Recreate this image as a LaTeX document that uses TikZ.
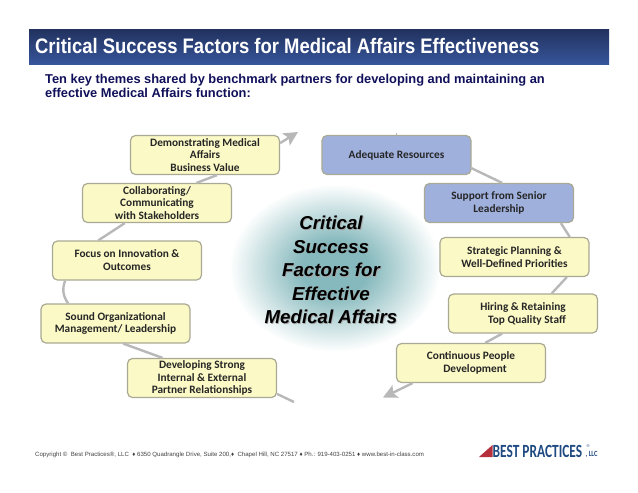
\documentclass[tikz,border=0pt]{standalone}
\usepackage{fontspec}
\setmainfont{Liberation Sans}
\newfontfamily\boxfont{Carlito}
\usetikzlibrary{arrows.meta}
\definecolor{boxyellow}{HTML}{FBF9C6}
\definecolor{boxblue}{HTML}{9FB0DC}
\definecolor{boxline}{HTML}{A9A994}
\definecolor{connline}{HTML}{B8B8B8}
\definecolor{bartop}{HTML}{22325F}
\definecolor{barbottom}{HTML}{37569C}
\definecolor{subnavy}{HTML}{10105A}
\definecolor{glowteal}{HTML}{86B9BD}
\definecolor{logoblue}{HTML}{1F4A82}
\definecolor{logored}{HTML}{B5303A}
\pgfdeclareradialshading{glow}{\pgfpointorigin}{color(0bp)=(glowteal);color(8bp)=(glowteal);color(25bp)=(white);color(100bp)=(white)}
\tikzset{
	theme/.style={draw=boxline,line width=1.2pt,rounded corners=5pt,minimum width=149pt,minimum height=39pt,inner sep=0pt,align=center,text=black!85,font=\boxfont\bfseries\fontsize{11.3}{12.9}\selectfont},
	conn/.style={draw=connline,line width=2.4pt},
	connarrow/.style={conn,-{Stealth[length=14pt,width=14pt,inset=3pt]}}
}
\begin{document}
\begin{tikzpicture}[x=1pt,y=1pt]
	\useasboundingbox (0,0) rectangle (638,-493);
	\shade [shading=glow] (335,-268) ellipse (106 and 84);
	\node [minimum width=580pt,minimum height=35.5pt,inner sep=0pt,top color=bartop,bottom color=barbottom] (bar) at (319,-47) {};
	\node [anchor=west,inner sep=0pt,text=white,xscale=.878,font=\bfseries\fontsize{21}{24}\selectfont] (title) at (35,-46) {Critical Success Factors for Medical Affairs Effectiveness};
	\node [anchor=north west,inner sep=0pt,align=left,text=subnavy,font=\bfseries\fontsize{12.85}{14}\selectfont] (sub) at (45,-73.5) {Ten key themes shared by benchmark partners for developing and maintaining an\\effective Medical Affairs function:};
	\begin{scope}[every node/.style={theme,fill=boxyellow}]
		\node (demo) at (205,-155) {Demonstrating Medical\\Affairs\\Business Value};
		\node (collab) at (157,-203) {Collaborating/\\Communicating\\with Stakeholders};
		\node (focus) at (127,-260.5) {Focus on Innovation \&\\Outcomes};
		\node (sound) at (115.5,-323.5) {Sound Organizational\\Management/ Leadership};
		\node (partner) at (202,-378) {Developing Strong\\Internal \& External\\Partner Relationships};
		\node (strategic) at (514.5,-257) {Strategic Planning \&\\Well-Defined Priorities};
		\node (hiring) at (523,-313.5) {Hiring \& Retaining\\\hspace*{8pt}Top Quality Staff};
		\node (people) at (471,-363) {Continuous People\\\hspace*{8pt}Development};
	\end{scope}
	\begin{scope}[every node/.style={theme,fill=boxblue}]
		\node (resources) at (396.5,-155) {Adequate Resources};
		\node (support) at (499,-203) {Support from Senior\\Leadership};
	\end{scope}
	\coordinate (demotip) at (298,-132);
	\coordinate (peopletip) at (383,-397.5);
	\coordinate (partnerend) at (294,-402);
	\coordinate (resourcestop) at (396.5,-133);
	\begin{scope}
		\path [conn] (partner.153) -- (sound.291);
		\path [conn] (partner.-12) -- (partnerend);
		\path [conn] (sound.157) to [bend left=28] (focus.198);
		\path [conn] (focus.145) -- (collab.212);
		\path [conn] (collab.27) -- (demo.301);
		\path [connarrow] (demo.9) -- (demotip);
		\path [conn,line width=.8pt] (resources.north) -- (resourcestop);
		\path [conn] (resources.-10) -- (support.81);
		\path [conn] (support.-18) -- (strategic.20);
		\path [conn] (strategic.-21) -- (hiring.35);
		\path [conn] (hiring.224) -- (people.55);
		\path [connarrow] (people.199) -- (peopletip);
	\end{scope}
	\begin{scope}[every node/.style={align=center,inner sep=0pt,font=\bfseries\itshape\fontsize{18.7}{23.5}\selectfont}]
		\node [text=black!35] (centreshadow) at (331.8,-270.8) {Critical\\Success\\Factors for\\Effective\\Medical Affairs};
		\node [text=black] (centre) at (331,-270) {Critical\\Success\\Factors for\\Effective\\Medical Affairs};
	\end{scope}
	\node [anchor=west,inner sep=0pt,text=black!75,font=\fontsize{6.1}{8}\selectfont] (footer) at (35,-454.5) {Copyright © \ Best Practices®, LLC \ ♦ 6350 Quadrangle Drive, Suite 200,♦ \ Chapel Hill, NC 27517 ♦ Ph.: 919-403-0251 ♦ www.best-in-class.com};
	\node [anchor=west,inner sep=0pt,text=logoblue,xscale=.72,font=\boxfont\bfseries\fontsize{18.6}{20}\selectfont] (logo) at (492.5,-451) {BEST PRACTICES};
	\node [anchor=base west,inner sep=0pt,text=logoblue,xscale=.8,font=\boxfont\bfseries\fontsize{8}{8}\selectfont] (llc) at (585.5,-456) {, LLC};
	\node [inner sep=0pt,text=logoblue,font=\fontsize{4}{4}\selectfont] (reg) at (588,-446.5) {®};
	\fill [logored] (479,-457) -- (492.5,-445) -- (492.5,-457) -- cycle;
\end{tikzpicture}
\end{document}
